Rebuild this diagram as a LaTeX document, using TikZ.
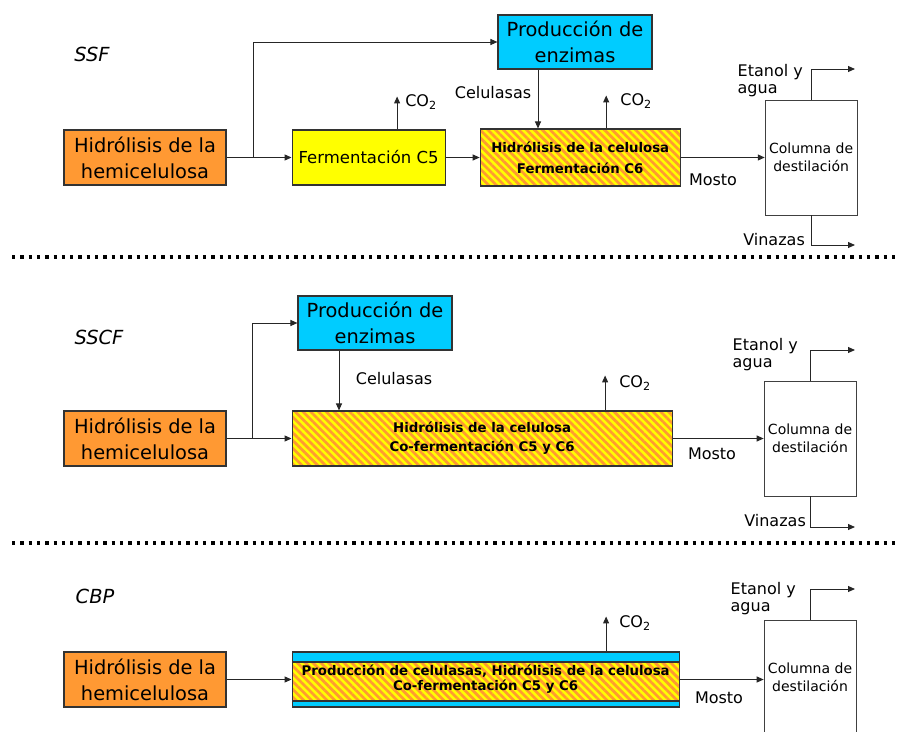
\documentclass[tikz,border=0pt]{standalone}
\usepackage{fontspec}
\setmainfont{DejaVu Sans}
\usetikzlibrary{arrows.meta,positioning,patterns.meta}

\definecolor{naranja}{HTML}{FF9933}
\definecolor{amarillo}{HTML}{FFFF00}
\definecolor{celeste}{HTML}{00CCFF}

\newcommand{\tamgrande}{\fontsize{19.4}{26}\selectfont}
\newcommand{\tammedia}{\fontsize{16.5}{20}\selectfont}
\newcommand{\tametiq}{\fontsize{16}{17}\selectfont}
\newcommand{\tamcol}{\fontsize{14}{18}\selectfont}

\begin{document}
\begin{tikzpicture}[
    x=1pt, y=-1pt,
    block/.style={draw=black!80, line width=1.1pt, rectangle, inner sep=0pt, align=center},
    hemi/.style={block, fill=naranja, minimum width=162pt, minimum height=55pt, font=\tamgrande},
    enzima/.style={block, fill=celeste, minimum width=154pt, minimum height=54pt, font=\tamgrande},
    rayas/.style={preaction={fill=amarillo}, preaction={pattern={Lines[angle=-45,distance=5.5pt,line width=2.7pt]}, pattern color=naranja}},
    rayado/.style={block, rayas},
    cbpbox/.style={block, fill=celeste, path picture={
        \draw[line width=1.1pt, draw=black!80, rayas] ([yshift=-10pt]path picture bounding box.north west) rectangle ([yshift=6pt]path picture bounding box.south east);}},
    columna/.style={block, draw=black!75, line width=0.8pt, minimum width=92pt, minimum height=115pt, font=\tamcol},
    arrow/.style={-{Triangle[length=7pt,width=6pt]}, line width=1pt, draw=black!85},
    etiq/.style={font=\tametiq, inner sep=0pt},
    titulo/.style={font=\tamgrande\itshape, inner sep=0pt},
    divisor/.style={line width=3.3pt, dash pattern=on 3.3pt off 5pt}
]
    \useasboundingbox (0,0) rectangle (897,731);

    % SSF
    \node [titulo] (tssf) at (92,54) {SSF};
    \node [hemi] (hemiA) at (145,157.5) {Hidrólisis de la\\hemicelulosa};
    \node [block, fill=amarillo, minimum width=153pt, minimum height=55pt, font=\tammedia, right=65pt of hemiA] (fermA) {Fermentación C5};
    \node [rayado, minimum width=200pt, minimum height=57pt, font=\bfseries\fontsize{13.3}{21}\selectfont, right=34pt of fermA] (hidA) {Hidrólisis de la celulosa\\Fermentación C6};
    \node [columna, right=84pt of hidA] (colA) {Columna de\\destilación};
    \node [enzima] (enzA) at (575,42) {Producción de\\enzimas};

    \draw [arrow] (hemiA) -- (fermA);
    \draw [arrow] ([xshift=27pt]hemiA.east) |- (enzA);
    \draw [arrow] (fermA) -- (hidA);
    \draw [arrow] ([xshift=-37pt]enzA.south) -- ([xshift=-37pt]enzA.south |- hidA.north);
    \draw [arrow] (hidA) -- (colA);
    \draw [arrow] ([xshift=28.5pt]fermA.north) -- ++(0,-33) coordinate (co2A1);
    \draw [arrow] ([xshift=26pt]hidA.north) -- ++(0,-33) coordinate (co2A2);
    \coordinate (etA) at (855,69);
    \coordinate (viA) at (855,245);
    \draw [arrow] (colA.north) |- (etA);
    \draw [arrow] (colA.south) |- (viA);

    \node [etiq] (celA) at (493,93) {Celulasas};
    \node [etiq, anchor=base west] (tco2A1) at ([xshift=8pt,yshift=-10pt]co2A1) {CO\textsubscript{2}};
    \node [etiq, anchor=base west] (tco2A2) at ([xshift=14pt,yshift=-10pt]co2A2) {CO\textsubscript{2}};
    \node [etiq] (mostoA) at (713,180) {Mosto};
    \node [etiq, align=left, anchor=east] (etanolA) at (803,81) {Etanol y\\agua};
    \node [etiq, anchor=east] (vinA) at (805,240) {Vinazas};

    \draw [divisor] (12,257) -- (897,257);

    % SSCF
    \node [titulo] (tsscf) at (99,337) {SSCF};
    \node [hemi] (hemiB) at (145,438.5) {Hidrólisis de la\\hemicelulosa};
    \node [rayado, minimum width=380pt, minimum height=55pt, font=\bfseries\fontsize{13.3}{19}\selectfont, right=65pt of hemiB] (hidB) {Hidrólisis de la celulosa\\Co-fermentación C5 y C6};
    \node [columna, right=91pt of hidB] (colB) {Columna de\\destilación};
    \node [enzima] (enzB) at (375,323) {Producción de\\enzimas};

    \draw [arrow] (hemiB) -- (hidB);
    \draw [arrow] ([xshift=26pt]hemiB.east) |- (enzB);
    \draw [arrow] ([xshift=-36pt]enzB.south) -- ([xshift=-36pt]enzB.south |- hidB.north);
    \draw [arrow] (hidB) -- (colB);
    \draw [arrow] ([xshift=123pt]hidB.north) -- ++(0,-35) coordinate (co2B);
    \coordinate (etB) at (855,350);
    \coordinate (viB) at (855,527);
    \draw [arrow] (colB.north) |- (etB);
    \draw [arrow] (colB.south) |- (viB);

    \node [etiq] (celB) at (394,379) {Celulasas};
    \node [etiq, anchor=base west] (tco2B) at ([xshift=14pt,yshift=-12pt]co2B) {CO\textsubscript{2}};
    \node [etiq] (mostoB) at (712,454) {Mosto};
    \node [etiq, align=left, anchor=east] (etanolB) at (798,355) {Etanol y\\agua};
    \node [etiq, anchor=east] (vinB) at (806,521) {Vinazas};

    \draw [divisor] (12,543) -- (897,543);

    % CBP
    \node [titulo] (tcbp) at (95,596) {CBP};
    \node [hemi] (hemiC) at (145,679.5) {Hidrólisis de la\\hemicelulosa};
    \node [cbpbox, minimum width=387pt, minimum height=55pt, font=\bfseries\fontsize{13.3}{15}\selectfont, right=65pt of hemiC] (cbpC) {Producción de celulasas, Hidrólisis de la celulosa\\Co-fermentación C5 y C6};
    \node [columna, right=84pt of cbpC, yshift=2pt] (colC) {Columna de\\destilación};

    \draw [arrow] (hemiC) -- (cbpC);
    \draw [arrow] (cbpC.east) -- (cbpC.east -| colC.west);
    \draw [arrow] ([xshift=120.5pt]cbpC.north) -- ++(0,-35) coordinate (co2C);
    \coordinate (etC) at (855,589);
    \draw [arrow] (colC.north) |- (etC);

    \node [etiq, anchor=base west] (tco2C) at ([xshift=13pt,yshift=-11pt]co2C) {CO\textsubscript{2}};
    \node [etiq] (mostoC) at (719,698) {Mosto};
    \node [etiq, align=left, anchor=east] (etanolC) at (796,599) {Etanol y\\agua};

\end{tikzpicture}
\end{document}
